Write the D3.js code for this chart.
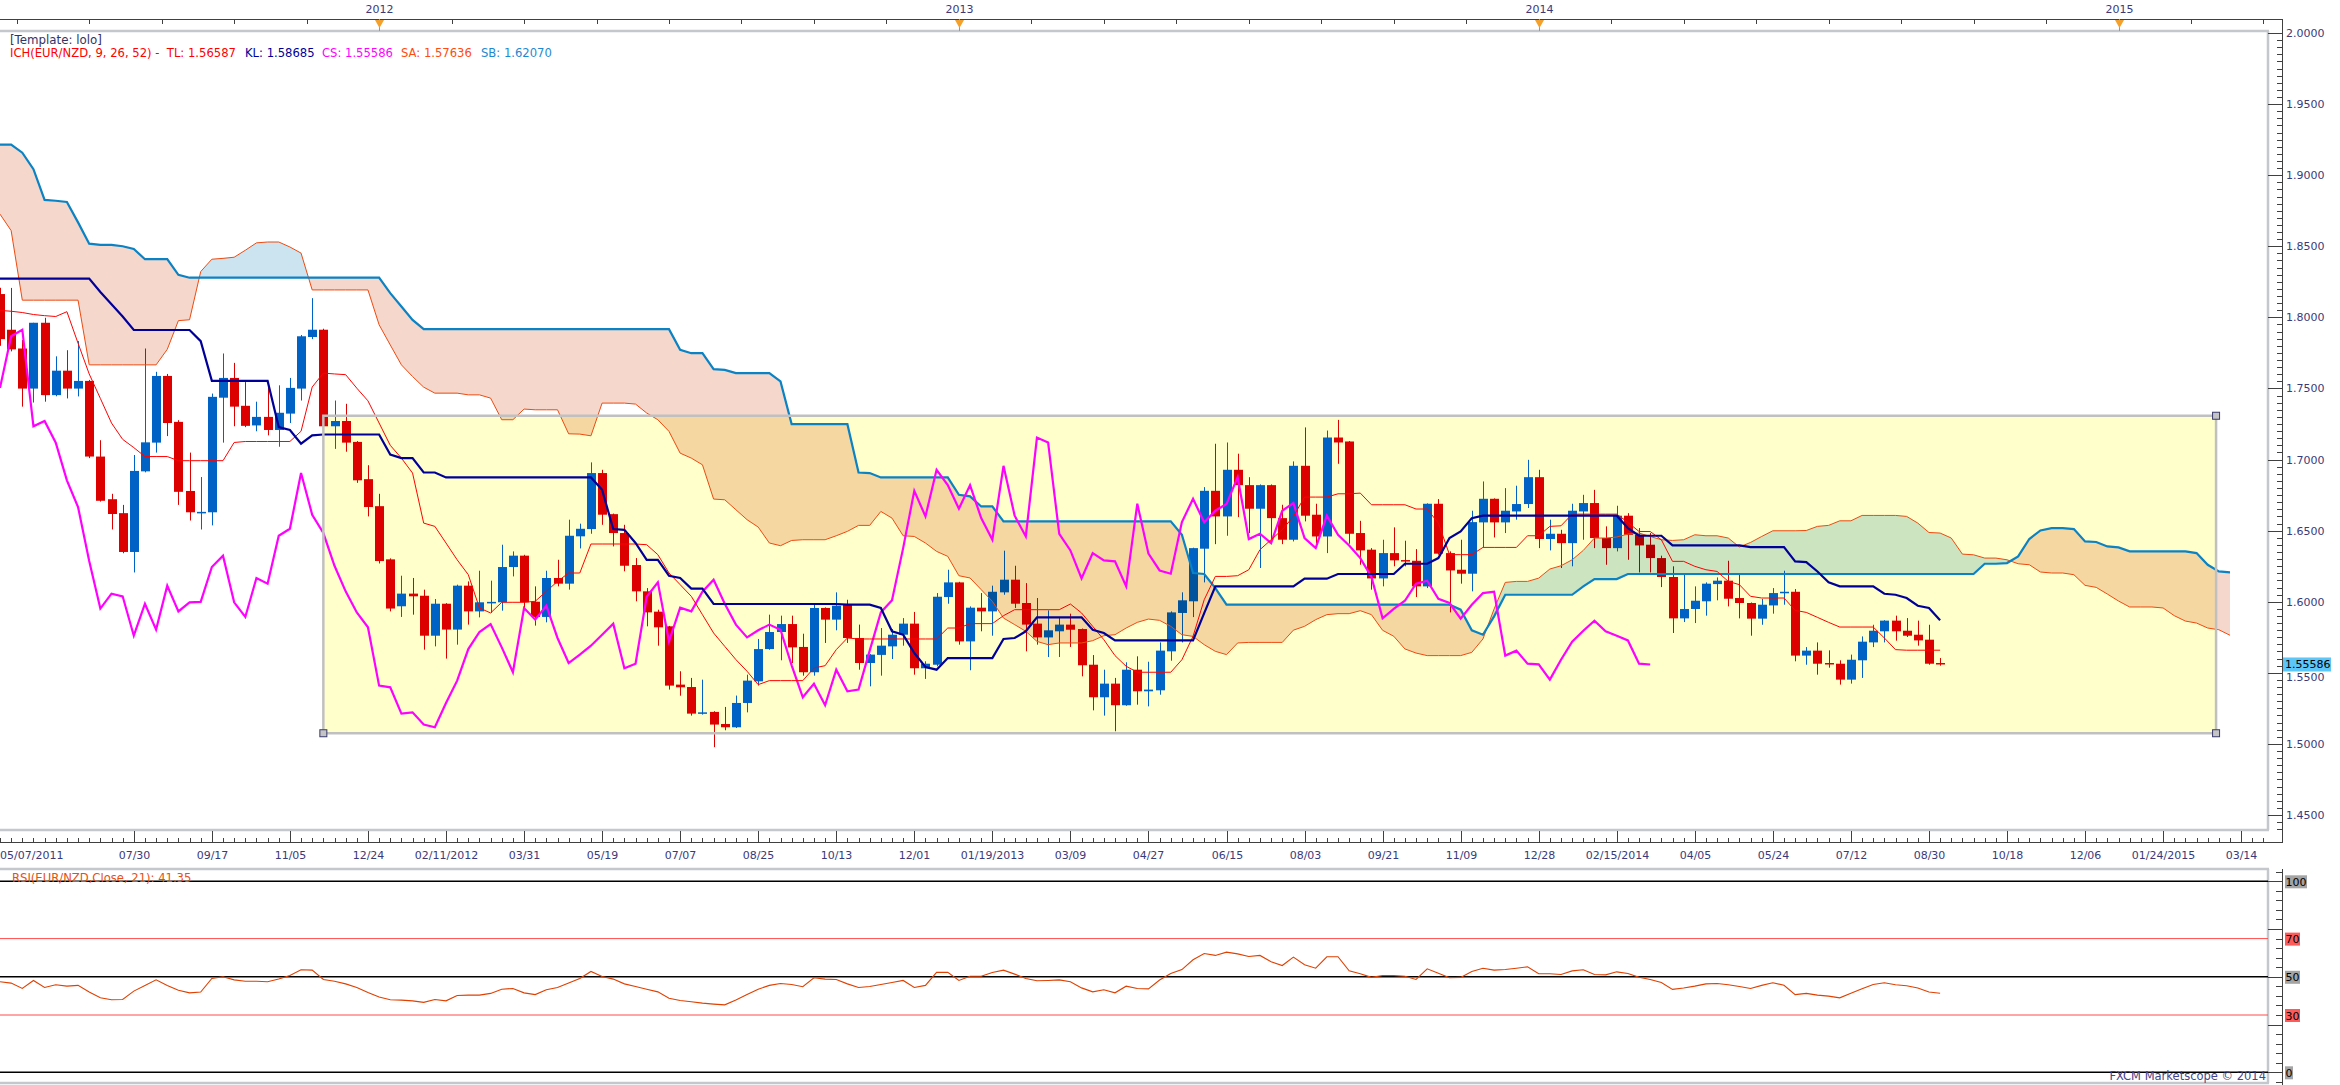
<!DOCTYPE html>
<html><head><meta charset="utf-8">
<script src="https://cdn.jsdelivr.net/npm/d3@7"></script>
<style>body{margin:0;background:#fff}svg{display:block}text{font-family:"DejaVu Sans",sans-serif}</style>
</head><body><svg id="c" width="2340" height="1085"></svg>
<script>
// ===== DATA (weekly EUR/NZD, week 0 = 05/07/2011) =====
const opens = [
1.8164,1.7913,1.7781,1.7499,1.7962,1.7453,1.7625,1.7499,1.7553,1.7021,
1.6721,1.6623,1.6350,1.6917,1.7119,1.7588,1.7265,1.6779,1.6629,1.6629,
1.7435,1.7574,1.7378,1.7240,1.7300,1.7208,1.7323,1.7499,1.7862,1.7913,
1.7234,1.7271,1.7124,1.6862,1.6672,1.6298,1.5968,1.6057,1.6042,1.5761,
1.5986,1.5804,1.6113,1.5932,1.5996,1.5996,1.6244,1.6324,1.6000,1.5893,
1.6167,1.6127,1.6460,1.6511,1.6905,1.6616,1.6483,1.6258,1.6073,1.5930,
1.5827,1.5417,1.5400,1.5213,1.5225,1.5140,1.5117,1.5288,1.5440,1.5667,
1.5787,1.5843,1.5682,1.5504,1.5956,1.5874,1.5979,1.5745,1.5569,1.5626,
1.5686,1.5768,1.5846,1.5532,1.5557,1.6033,1.6136,1.5721,1.5958,1.5932,
1.6066,1.6155,1.5991,1.5846,1.5749,1.5792,1.5839,1.5808,1.5557,1.5328,
1.5424,1.5272,1.5522,1.5370,1.5377,1.5651,1.5921,1.6003,1.6373,1.6780,
1.6600,1.6928,1.6820,1.6654,1.6820,1.6588,1.6436,1.6956,1.6612,1.6459,
1.7155,1.7127,1.6483,1.6366,1.6164,1.6342,1.6293,1.6288,1.6108,1.6689,
1.6342,1.6225,1.6197,1.6558,1.6724,1.6558,1.6635,1.6687,1.6876,1.6441,
1.6478,1.6412,1.6635,1.6694,1.6448,1.6377,1.6605,1.6471,1.6401,1.6307,
1.6174,1.5883,1.5949,1.6003,1.6124,1.6148,1.6026,1.5991,1.5881,1.5974,
1.6061,1.6070,1.5621,1.5656,1.5569,1.5564,1.5452,1.5588,1.5714,1.5792,
1.5867,1.5796,1.5768,1.5733,1.5569];
const highs = [
1.8208,1.8207,1.7841,1.7962,1.7997,1.7726,1.7769,1.7833,1.7560,1.7136,
1.6759,1.6681,1.7032,1.7781,1.7617,1.7602,1.7277,1.7049,1.6877,1.7464,
1.7746,1.7680,1.7545,1.7407,1.7545,1.7522,1.7574,1.7876,1.8135,1.7920,
1.7415,1.7392,1.7130,1.6960,1.6759,1.6305,1.6183,1.6167,1.6085,1.6019,
1.5990,1.6120,1.6143,1.6218,1.6148,1.6401,1.6354,1.6330,1.6108,1.6218,
1.6295,1.6577,1.6549,1.6980,1.6928,1.6620,1.6541,1.6307,1.6096,1.5944,
1.5830,1.5511,1.5464,1.5452,1.5230,1.5260,1.5340,1.5487,1.5738,1.5909,
1.5902,1.5902,1.5775,1.5979,1.5960,1.6066,1.6014,1.5839,1.5632,1.5815,
1.5808,1.5885,1.5928,1.5581,1.6061,1.6225,1.6140,1.5967,1.6061,1.6113,
1.6359,1.6253,1.6131,1.6026,1.5939,1.5885,1.5916,1.5812,1.5625,1.5522,
1.5464,1.5574,1.5616,1.5578,1.5714,1.5932,1.6066,1.6380,1.6806,1.7111,
1.7120,1.7041,1.6876,1.6825,1.6825,1.6682,1.6987,1.7226,1.6689,1.7204,
1.7279,1.7130,1.6569,1.6377,1.6436,1.6523,1.6429,1.6370,1.6692,1.6722,
1.6354,1.6436,1.6640,1.6846,1.6727,1.6799,1.6816,1.6998,1.6928,1.6577,
1.6506,1.6689,1.6752,1.6787,1.6530,1.6675,1.6623,1.6518,1.6483,1.6324,
1.6249,1.6190,1.6108,1.6136,1.6171,1.6288,1.6190,1.5995,1.6019,1.6096,
1.6218,1.6089,1.5681,1.5714,1.5658,1.5588,1.5628,1.5756,1.5838,1.5870,
1.5902,1.5885,1.5867,1.5838,1.5604];
const lows = [
1.7800,1.7761,1.7372,1.7401,1.7407,1.7445,1.7430,1.7444,1.7010,1.6704,
1.6508,1.6341,1.6206,1.6910,1.7049,1.7165,1.6681,1.6571,1.6508,1.6537,
1.7119,1.7234,1.7228,1.7199,1.7170,1.7090,1.7257,1.7415,1.7847,1.7185,
1.7075,1.7055,1.6836,1.6600,1.6269,1.5932,1.5893,1.5909,1.5663,1.5686,
1.5600,1.5698,1.5839,1.5890,1.5921,1.5937,1.6178,1.5956,1.5832,1.5855,
1.6108,1.6085,1.6375,1.6478,1.6541,1.6389,1.6214,1.6003,1.5827,1.5691,
1.5382,1.5339,1.5199,1.5206,1.4977,1.5096,1.5112,1.5222,1.5410,1.5662,
1.5588,1.5569,1.5480,1.5480,1.5710,1.5799,1.5710,1.5522,1.5405,1.5480,
1.5597,1.5691,1.5487,1.5457,1.5546,1.5986,1.5698,1.5518,1.5792,1.5761,
1.6049,1.5956,1.5651,1.5698,1.5611,1.5611,1.5682,1.5475,1.5236,1.5199,
1.5089,1.5268,1.5276,1.5264,1.5346,1.5585,1.5714,1.5892,1.6136,1.6405,
1.6464,1.6595,1.6483,1.6237,1.6441,1.6405,1.6424,1.6565,1.6408,1.6342,
1.6970,1.6408,1.6260,1.6085,1.6108,1.6249,1.6249,1.6033,1.6096,1.6331,
1.5925,1.6127,1.6073,1.6384,1.6452,1.6483,1.6577,1.6659,1.6377,1.6361,
1.6237,1.6249,1.6436,1.6377,1.6260,1.6354,1.6295,1.6206,1.6206,1.6103,
1.5780,1.5857,1.5850,1.5902,1.6010,1.5967,1.5883,1.5761,1.5838,1.5916,
1.5979,1.5581,1.5557,1.5487,1.5536,1.5417,1.5424,1.5464,1.5681,1.5714,
1.5726,1.5752,1.5691,1.5557,1.5550];
const closes = [
1.7847,1.7775,1.7499,1.7962,1.7453,1.7625,1.7499,1.7553,1.7021,1.6710,
1.6617,1.6350,1.6920,1.7121,1.7588,1.7257,1.6773,1.6629,1.6632,1.7441,
1.7574,1.7372,1.7237,1.7300,1.7208,1.7329,1.7504,1.7867,1.7913,1.7234,
1.7271,1.7119,1.6854,1.6666,1.6286,1.5952,1.6057,1.6038,1.5761,1.5986,
1.5804,1.6113,1.5932,1.5996,1.5999,1.6244,1.6324,1.5996,1.5893,1.6167,
1.6127,1.6464,1.6513,1.6905,1.6612,1.6483,1.6253,1.6073,1.5925,1.5820,
1.5410,1.5398,1.5213,1.5222,1.5136,1.5117,1.5288,1.5445,1.5667,1.5787,
1.5843,1.5679,1.5504,1.5956,1.5874,1.5972,1.5745,1.5569,1.5628,1.5691,
1.5768,1.5846,1.5532,1.5564,1.6035,1.6136,1.5721,1.5958,1.5932,1.6070,
1.6155,1.5986,1.5839,1.5749,1.5799,1.5839,1.5803,1.5553,1.5328,1.5424,
1.5272,1.5522,1.5370,1.5382,1.5656,1.5925,1.6010,1.6377,1.6780,1.6600,
1.6928,1.6820,1.6654,1.6820,1.6588,1.6436,1.6956,1.6605,1.6459,1.7155,
1.7120,1.6478,1.6361,1.6164,1.6342,1.6291,1.6284,1.6108,1.6689,1.6338,
1.6220,1.6197,1.6560,1.6724,1.6558,1.6640,1.6687,1.6876,1.6441,1.6478,
1.6412,1.6640,1.6694,1.6448,1.6377,1.6605,1.6471,1.6396,1.6307,1.6174,
1.5883,1.5949,1.6007,1.6127,1.6148,1.6021,1.5991,1.5881,1.5979,1.6061,
1.6070,1.5621,1.5656,1.5564,1.5560,1.5452,1.5592,1.5719,1.5796,1.5867,
1.5792,1.5761,1.5728,1.5564,1.55586];
// Tenkan (TL)
const tenkan = [
1.8049,1.8043,1.8034,1.8020,1.8012,1.8006,1.8040,1.7818,1.7602,1.7430,
1.7257,1.7142,1.7084,1.7021,1.7021,1.7021,1.6992,1.6992,1.6992,1.6992,
1.6992,1.7120,1.7127,1.7127,1.7127,1.7127,1.7127,1.7199,1.7510,1.7608,
1.7602,1.7597,1.7502,1.7413,1.7257,1.7100,1.7010,1.6905,1.6553,1.6530,
1.6413,1.6295,1.6190,1.5956,1.5921,1.5996,1.5996,1.5996,1.6003,1.6073,
1.6143,1.6202,1.6202,1.6406,1.6406,1.6406,1.6406,1.6406,1.6401,1.6331,
1.6202,1.6120,1.6038,1.5909,1.5780,1.5686,1.5593,1.5511,1.5417,1.5445,
1.5445,1.5445,1.5445,1.5534,1.5550,1.5663,1.5745,1.5738,1.5738,1.5738,
1.5738,1.5738,1.5738,1.5738,1.5738,1.5815,1.5815,1.5846,1.5846,1.5846,
1.5902,1.5944,1.5944,1.5944,1.5944,1.5944,1.5984,1.5921,1.5827,1.5733,
1.5621,1.5546,1.5504,1.5504,1.5504,1.5504,1.5592,1.5757,1.6014,1.6178,
1.6178,1.6183,1.6225,1.6366,1.6436,1.6506,1.6600,1.6736,1.6736,1.6736,
1.6759,1.6759,1.6764,1.6682,1.6682,1.6682,1.6682,1.6652,1.6652,1.6553,
1.6331,1.6331,1.6331,1.6382,1.6382,1.6382,1.6382,1.6464,1.6464,1.6530,
1.6534,1.6616,1.6616,1.6616,1.6616,1.6616,1.6558,1.6494,1.6494,1.6436,
1.6284,1.6284,1.6249,1.6225,1.6213,1.6143,1.6120,1.6038,1.6026,1.6026,
1.6026,1.5939,1.5925,1.5890,1.5855,1.5822,1.5822,1.5822,1.5822,1.5745,
1.5663,1.5659,1.5659,1.5659,1.5659];
// Kijun (KL)
const kijun = [
1.8273,1.8273,1.8273,1.8273,1.8273,1.8273,1.8273,1.8273,1.8273,1.8178,
1.8092,1.8006,1.7911,1.7911,1.7911,1.7911,1.7911,1.7911,1.7833,1.7553,
1.7553,1.7553,1.7553,1.7553,1.7553,1.7228,1.7208,1.7112,1.7170,1.7176,
1.7176,1.7176,1.7176,1.7176,1.7176,1.7035,1.7010,1.7010,1.6909,1.6909,
1.6874,1.6874,1.6874,1.6874,1.6874,1.6874,1.6874,1.6874,1.6874,1.6874,
1.6874,1.6874,1.6874,1.6874,1.6787,1.6511,1.6506,1.6413,1.6295,1.6295,
1.6183,1.6167,1.6092,1.6092,1.5984,1.5984,1.5984,1.5984,1.5984,1.5984,
1.5984,1.5984,1.5984,1.5984,1.5984,1.5984,1.5979,1.5979,1.5979,1.5956,
1.5792,1.5768,1.5639,1.5541,1.5522,1.5604,1.5604,1.5604,1.5604,1.5604,
1.5738,1.5745,1.5792,1.5890,1.5890,1.5890,1.5890,1.5890,1.5803,1.5780,
1.5728,1.5728,1.5728,1.5728,1.5728,1.5728,1.5728,1.5728,1.5920,1.6108,
1.6108,1.6108,1.6108,1.6108,1.6108,1.6108,1.6108,1.6162,1.6162,1.6162,
1.6195,1.6195,1.6195,1.6195,1.6195,1.6195,1.6267,1.6267,1.6267,1.6307,
1.6448,1.6494,1.6588,1.6605,1.6605,1.6605,1.6605,1.6605,1.6605,1.6605,
1.6605,1.6605,1.6605,1.6605,1.6605,1.6605,1.6518,1.6464,1.6464,1.6464,
1.6396,1.6396,1.6396,1.6396,1.6396,1.6396,1.6396,1.6384,1.6384,1.6384,
1.6384,1.6284,1.6279,1.6213,1.6136,1.6108,1.6108,1.6108,1.6108,1.6056,
1.6049,1.6026,1.5972,1.5956,1.5869];
// Senkou A (SA), plotted weeks 0..200
const senkouA = [
1.8726,1.8610,1.8121,1.8121,1.8121,1.8121,1.8121,1.8121,1.7666,1.7666,
1.7666,1.7666,1.7666,1.7666,1.7666,1.7775,1.7977,1.7983,1.8322,1.8409,
1.8415,1.8423,1.8472,1.8524,1.8530,1.8530,1.8495,1.8452,1.8193,1.8193,
1.8193,1.8193,1.8193,1.8193,1.7948,1.7806,1.7666,1.7584,1.7509,1.7467,
1.7467,1.7467,1.7455,1.7455,1.7432,1.7280,1.7280,1.7355,1.7350,1.7350,
1.7350,1.7181,1.7179,1.7167,1.7397,1.7397,1.7397,1.7390,1.7327,1.7280,
1.7198,1.7045,1.7010,1.6963,1.6722,1.6717,1.6647,1.6577,1.6525,1.6413,
1.6394,1.6431,1.6436,1.6436,1.6436,1.6464,1.6495,1.6537,1.6537,1.6635,
1.6588,1.6464,1.6459,1.6413,1.6354,1.6319,1.6183,1.6167,1.6085,1.6003,
1.5885,1.5839,1.5792,1.5721,1.5698,1.5710,1.5710,1.5710,1.5726,1.5761,
1.5768,1.5815,1.5855,1.5878,1.5869,1.5827,1.5768,1.5756,1.5698,1.5651,
1.5628,1.5710,1.5714,1.5714,1.5714,1.5714,1.5800,1.5827,1.5874,1.5909,
1.5916,1.5916,1.5937,1.5909,1.5799,1.5757,1.5668,1.5639,1.5621,1.5621,
1.5621,1.5621,1.5644,1.5738,1.5949,1.6136,1.6143,1.6143,1.6166,1.6230,
1.6253,1.6295,1.6361,1.6448,1.6448,1.6455,1.6476,1.6483,1.6459,1.6436,
1.6431,1.6436,1.6471,1.6464,1.6464,1.6448,1.6385,1.6417,1.6459,1.6499,
1.6499,1.6499,1.6501,1.6530,1.6537,1.6569,1.6569,1.6607,1.6607,1.6607,
1.6607,1.6600,1.6553,1.6487,1.6483,1.6448,1.6335,1.6330,1.6307,1.6307,
1.6295,1.6267,1.6260,1.6209,1.6202,1.6202,1.6190,1.6115,1.6101,1.6054,
1.6005,1.5963,1.5963,1.5963,1.5956,1.5902,1.5864,1.5850,1.5815,1.5803,
1.5764];
// Senkou B (SB), plotted weeks 0..200
const senkouB = [
1.9215,1.9215,1.9158,1.9042,1.8826,1.8820,1.8812,1.8668,1.8518,1.8510,
1.8510,1.8500,1.8481,1.8409,1.8409,1.8409,1.8299,1.8279,1.8279,1.8279,
1.8279,1.8279,1.8279,1.8279,1.8279,1.8279,1.8279,1.8279,1.8279,1.8279,
1.8279,1.8279,1.8279,1.8279,1.8279,1.8170,1.8077,1.7982,1.7917,1.7917,
1.7917,1.7917,1.7917,1.7917,1.7917,1.7917,1.7917,1.7917,1.7917,1.7917,
1.7917,1.7917,1.7917,1.7917,1.7917,1.7917,1.7917,1.7917,1.7917,1.7917,
1.7917,1.7772,1.7748,1.7748,1.7636,1.7631,1.7608,1.7608,1.7608,1.7608,
1.7549,1.7249,1.7249,1.7249,1.7249,1.7249,1.7249,1.6909,1.6905,1.6874,
1.6874,1.6874,1.6874,1.6874,1.6874,1.6874,1.6752,1.6741,1.6670,1.6670,
1.6565,1.6565,1.6565,1.6565,1.6565,1.6565,1.6565,1.6565,1.6565,1.6565,
1.6565,1.6565,1.6565,1.6565,1.6565,1.6565,1.6471,1.6202,1.6195,1.6096,
1.5979,1.5979,1.5979,1.5979,1.5979,1.5979,1.5979,1.5979,1.5979,1.5979,
1.5979,1.5979,1.5979,1.5979,1.5979,1.5979,1.5979,1.5979,1.5979,1.5979,
1.5979,1.5944,1.5799,1.5768,1.5897,1.6049,1.6049,1.6049,1.6049,1.6049,
1.6049,1.6049,1.6108,1.6159,1.6159,1.6159,1.6195,1.6195,1.6195,1.6195,
1.6195,1.6195,1.6195,1.6195,1.6195,1.6195,1.6195,1.6195,1.6195,1.6195,
1.6195,1.6195,1.6195,1.6195,1.6195,1.6195,1.6195,1.6195,1.6195,1.6195,
1.6195,1.6195,1.6195,1.6195,1.6195,1.6195,1.6195,1.6195,1.6267,1.6267,
1.6272,1.6319,1.6441,1.6501,1.6518,1.6518,1.6511,1.6424,1.6420,1.6389,
1.6382,1.6354,1.6354,1.6354,1.6354,1.6354,1.6354,1.6342,1.6260,1.6213,
1.6207];
const chikouShift = 26; // CS = close drawn 26 weeks back
// RSI(21)
const rsi = [
47.4,46.7,43.9,48.1,44.4,45.8,45.1,45.5,42.0,39.0,
38.0,38.1,42.5,45.5,48.4,45.5,43.0,41.6,42.0,49.1,
50.0,48.4,47.7,47.7,47.4,48.8,50.7,53.7,53.5,48.6,
47.7,46.3,44.4,41.8,39.4,38.0,37.8,37.4,36.6,38.1,
37.4,40.2,40.4,40.4,41.3,43.5,43.9,41.6,40.7,43.2,
44.4,46.7,49.1,52.8,50.2,48.8,46.3,44.9,43.5,42.1,
38.8,37.6,36.9,36.2,35.7,35.3,37.8,40.7,43.5,45.5,
46.5,46.0,44.8,49.5,48.8,48.6,46.3,44.4,44.9,46.0,
47.0,48.1,44.4,45.5,52.3,52.4,48.1,50.3,50.3,52.3,
53.5,51.4,49.1,47.9,48.1,48.4,47.4,44.2,42.1,43.2,
41.6,45.1,43.9,43.7,48.3,51.7,53.8,58.9,62.2,61.2,
62.9,62.0,60.6,61.2,57.9,55.9,60.3,56.3,54.5,60.5,
60.5,53.1,51.6,49.7,50.7,50.7,50.3,48.6,54.2,51.9,
49.5,49.7,52.8,54.5,53.5,53.8,54.5,55.2,51.6,51.6,
51.2,53.1,53.7,51.2,51.0,52.6,51.7,49.8,48.6,47.0,
43.4,44.1,45.1,46.3,46.5,45.8,44.9,43.9,45.5,46.9,
45.6,40.7,41.3,40.4,39.9,39.0,41.4,43.7,46.0,46.9,
45.8,45.3,44.1,42.0,41.35];
const rsiLevels = [100, 70, 50, 30, 0];
const dateLabels = ["05/07/2011","07/30","09/17","11/05","12/24","02/11/2012","03/31","05/19","07/07","08/25","10/13","12/01","01/19/2013","03/09","04/27","06/15","08/03","09/21","11/09","12/28","02/15/2014","04/05","05/24","07/12","08/30","10/18","12/06","01/24/2015","03/14"];
const dateLabelWeeks = [0,12,19,26,33,40,47,54,61,68,75,82,89,96,103,110,117,124,131,138,145,152,159,166,173,180,187,194,201];
const yearLabels = ["2012","2013","2014","2015"];
const yearWeeks = [34,86,138,190];
const priceTicks = [1.45,1.50,1.55,1.60,1.65,1.70,1.75,1.80,1.85,1.90,1.95,2.00];
const boxWeeks = [29, 198.75];      // drawn rectangle (weeks)
const boxPrices = [1.7308, 1.5075]; // drawn rectangle (prices)
const lastPrice = 1.55586;
const legendTemplate = "[Template: lolo]";
const legendParts = [
 {t:"ICH(EUR/NZD, 9, 26, 52) -  TL: 1.56587", c:"#ff0000", x:10},
 {t:"KL: 1.58685", c:"#000099", x:245},
 {t:"CS: 1.55586", c:"#ff00ff", x:322},
 {t:"SA: 1.57636", c:"#ff4a10", x:401},
 {t:"SB: 1.62070", c:"#1e88d0", x:481}];
const rsiLegend = "RSI(EUR/NZD,Close, 21): 41.35";

// ===== LAYOUT =====
const W=2340,H=1085;
const plotR=2268, plotT=31, plotB=830, axX=2282, topAxY=19, botAxY=842, rsiT=869, rsiB=1083;
const svg=d3.select('#c');
const defs=svg.append('defs');
const x=d3.scaleLinear().domain([0,200]).range([0,2230]);
const y=d3.scaleLinear().domain([1.45,2.0]).range([815,33]);
const yr=d3.scaleLinear().domain([0,100]).range([1072.3,881.3]);
const labelCol="#3a3a7a";

svg.append('rect').attr('width',W).attr('height',H).attr('fill','#fff');

defs.append('clipPath').attr('id','mainClip').append('rect')
  .attr('x',0).attr('y',plotT).attr('width',plotR).attr('height',plotB-plotT);
defs.append('clipPath').attr('id','rsiClip').append('rect')
  .attr('x',0).attr('y',rsiT).attr('width',plotR).attr('height',rsiB-rsiT);

const main=svg.append('g').attr('clip-path','url(#mainClip)');

// yellow rectangle
main.append('rect').attr('x',x(boxWeeks[0])).attr('y',y(boxPrices[0]))
  .attr('width',x(boxWeeks[1])-x(boxWeeks[0])).attr('height',y(boxPrices[1])-y(boxPrices[0]))
  .attr('fill','#ffffcc');

// candles
const cg=main.append('g');
closes.forEach((c,i)=>{
  const o=opens[i], up=c>=o, col=up?'#0062c4':'#dd0000';
  const px=Math.round(x(i));
  cg.append('line').attr('x1',px+0.5).attr('x2',px+0.5)
    .attr('y1',y(highs[i])).attr('y2',y(lows[i])).attr('stroke',col).attr('stroke-width',1);
  const top=y(Math.max(o,c)), bot=y(Math.min(o,c));
  cg.append('rect').attr('x',px-4).attr('y',top).attr('width',9)
    .attr('height',Math.max(bot-top,1.5)).attr('fill',col);
});

// cloud (multiply blend)
const ci=d3.range(senkouA.length);
defs.append('clipPath').attr('id','aboveSA').append('path')
  .attr('d',d3.area().x(i=>x(i)).y0(0).y1(i=>y(senkouA[i]))(ci));
defs.append('clipPath').attr('id','belowSA').append('path')
  .attr('d',d3.area().x(i=>x(i)).y0(i=>y(senkouA[i])).y1(H)(ci));
const cloud=main.append('g').style('mix-blend-mode','multiply');
cloud.append('path').attr('clip-path','url(#aboveSA)')
  .attr('d',d3.area().x(i=>x(i)).y0(i=>y(senkouB[i])).y1(H)(ci)).attr('fill','#f5d7cb');
cloud.append('path').attr('clip-path','url(#belowSA)')
  .attr('d',d3.area().x(i=>x(i)).y0(0).y1(i=>y(senkouB[i]))(ci)).attr('fill','#cce4f0');

// lines
const line=d3.line().x((d,i)=>x(i)).y(d=>y(d));
main.append('path').attr('d',line(senkouA)).attr('fill','none').attr('stroke','#ee4a10').attr('stroke-width',1);
main.append('path').attr('d',line(senkouB)).attr('fill','none').attr('stroke','#0a82c4').attr('stroke-width',2.2);
main.append('path').attr('d',line(closes.slice(chikouShift))).attr('fill','none').attr('stroke','#ff00ff').attr('stroke-width',2.2);
main.append('path').attr('d',line(tenkan)).attr('fill','none').attr('stroke','#ff0000').attr('stroke-width',1);
main.append('path').attr('d',line(kijun)).attr('fill','none').attr('stroke','#000099').attr('stroke-width',2.2);

// rectangle border + handles
main.append('rect').attr('x',x(boxWeeks[0])).attr('y',y(boxPrices[0]))
  .attr('width',x(boxWeeks[1])-x(boxWeeks[0])).attr('height',y(boxPrices[1])-y(boxPrices[0]))
  .attr('fill','none').attr('stroke','#c0c0c0').attr('stroke-width',2.5);
[[boxWeeks[0],boxPrices[1]],[boxWeeks[1],boxPrices[0]],[boxWeeks[1],boxPrices[1]]].forEach(([w,p])=>{
  svg.append('rect').attr('x',x(w)-3.5).attr('y',y(p)-3.5).attr('width',7).attr('height',7)
    .attr('fill','#c4c4c4').attr('stroke','#3a3a6a').attr('stroke-width',1);
});

// legend
svg.append('text').attr('x',10).attr('y',43.5).attr('font-size',11.8).attr('fill','#333366').text(legendTemplate);
legendParts.forEach(p=>svg.append('text').attr('x',p.x).attr('y',56.5).attr('font-size',11.6).attr('fill',p.c).attr('xml:space','preserve').text(p.t));

// panel borders
const border='#c4c8cc';
svg.append('line').attr('x1',0).attr('x2',plotR+1).attr('y1',plotT).attr('y2',plotT).attr('stroke',border).attr('stroke-width',2.5);
svg.append('line').attr('x1',0).attr('x2',plotR+1).attr('y1',plotB).attr('y2',plotB).attr('stroke',border).attr('stroke-width',2.5);
svg.append('line').attr('x1',plotR).attr('x2',plotR).attr('y1',plotT).attr('y2',plotB).attr('stroke',border).attr('stroke-width',2.5);
svg.append('line').attr('x1',0).attr('x2',plotR+1).attr('y1',rsiT).attr('y2',rsiT).attr('stroke',border).attr('stroke-width',2.5);
svg.append('line').attr('x1',0).attr('x2',plotR+1).attr('y1',rsiB).attr('y2',rsiB).attr('stroke',border).attr('stroke-width',2.5);
svg.append('line').attr('x1',plotR).attr('x2',plotR).attr('y1',rsiT).attr('y2',rsiB).attr('stroke',border).attr('stroke-width',2.5);

// top axis
const ax='#404040';
svg.append('line').attr('x1',0).attr('x2',axX+0.5).attr('y1',topAxY+0.5).attr('y2',topAxY+0.5).attr('stroke',ax);
for(let k=-5;k<=26;k++){
  const w=yearWeeks[0]+6.5*k, px=Math.round(x(w))+0.5;
  if(px<0||px>axX) continue;
  svg.append('line').attr('x1',px).attr('x2',px).attr('y1',topAxY).attr('y2',topAxY+5).attr('stroke',ax);
}
yearWeeks.forEach((w,i)=>{
  const px=Math.round(x(w))+0.5;
  svg.append('line').attr('x1',px).attr('x2',px).attr('y1',topAxY).attr('y2',plotT).attr('stroke','#999');
  svg.append('path').attr('d',`M${px-4.5},${topAxY+1}L${px+4.5},${topAxY+1}L${px},${topAxY+9}Z`).attr('fill','#f5a02a');
  svg.append('text').attr('x',px).attr('y',12.7).attr('text-anchor','middle').attr('font-size',11).attr('fill',labelCol).text(yearLabels[i]);
});

// right price axis
svg.append('line').attr('x1',axX+0.5).attr('x2',axX+0.5).attr('y1',topAxY).attr('y2',botAxY+1).attr('stroke',ax);
for(let k=288;k<=400;k++){
  const v=k*0.005, py=Math.round(y(v))+0.5;
  if(py<plotT||py>botAxY-2) continue;
  const major=(k%10===0);
  svg.append('line').attr('x1',major?plotR:axX-5).attr('x2',axX).attr('y1',py).attr('y2',py).attr('stroke',ax);
}
const boxTop=y(lastPrice)-7, boxH=14;
priceTicks.forEach(v=>{
  let by=y(v)+4;
  // the last-price flag covers this label's upper part in the original; show the label just below it
  if(by-10<boxTop+boxH && by>boxTop) by=boxTop+boxH+9.5;
  svg.append('text').attr('x',axX+4).attr('y',by).attr('font-size',11).attr('fill',labelCol).text(v.toFixed(4));
});
svg.append('rect').attr('x',axX+1).attr('y',boxTop).attr('width',48).attr('height',boxH).attr('fill','#5cc6f8');
svg.append('text').attr('x',axX+3).attr('y',y(lastPrice)+4).attr('font-size',11).attr('fill','#000').text(lastPrice.toFixed(5));

// bottom date axis
svg.append('line').attr('x1',0).attr('x2',axX+0.5).attr('y1',botAxY+0.5).attr('y2',botAxY+0.5).attr('stroke',ax);
for(let w=0;w<=203;w++){
  const px=Math.round(x(w))+0.5;
  if(px>plotR) continue;
  svg.append('line').attr('x1',px).attr('x2',px).attr('y1',botAxY-4).attr('y2',botAxY).attr('stroke',ax);
}
dateLabelWeeks.forEach((w,i)=>{
  const px=Math.round(x(w))+0.5;
  if(i>0) svg.append('line').attr('x1',px).attr('x2',px).attr('y1',plotB+1).attr('y2',botAxY).attr('stroke',ax);
  svg.append('text').attr('x',i===0?0:px).attr('y',859).attr('text-anchor',i===0?'start':'middle')
    .attr('font-size',11).attr('fill',labelCol).text(dateLabels[i]);
});

// RSI panel
const rg=svg.append('g').attr('clip-path','url(#rsiClip)');
rsiLevels.forEach(l=>{
  const red=(l===70||l===30);
  rg.append('line').attr('x1',0).attr('x2',plotR).attr('y1',yr(l)).attr('y2',yr(l))
    .attr('stroke',red?'#ff4a4a':'#000').attr('stroke-width',red?1:1.6);
});
rg.append('path').attr('d',d3.line().x((d,i)=>x(i)).y(d=>yr(d))(rsi)).attr('fill','none').attr('stroke','#e04000').attr('stroke-width',1.1);
svg.append('text').attr('x',12).attr('y',882).attr('font-size',11.6).attr('fill','#e85010').text(rsiLegend);
svg.append('line').attr('x1',axX+0.5).attr('x2',axX+0.5).attr('y1',rsiT).attr('y2',rsiB+2).attr('stroke',ax);
for(let v=-5;v<=105;v+=5){
  const py=Math.round(yr(v))+0.5;
  if(py<rsiT||py>rsiB+1) continue;
  svg.append('line').attr('x1',v%25===0?plotR:axX-6).attr('x2',axX).attr('y1',py).attr('y2',py).attr('stroke',ax);
}
rsiLevels.forEach(l=>{
  const red=(l===70||l===30);
  const tw=String(l).length*7+1;
  svg.append('rect').attr('x',axX+3).attr('y',yr(l)-6).attr('width',tw).attr('height',13).attr('fill',red?'#ff5a5a':'#a4a4a4');
  svg.append('text').attr('x',axX+3.5).attr('y',yr(l)+4.5).attr('font-size',11).attr('fill','#000').text(l);
});
svg.append('text').attr('x',plotR-2).attr('y',1080).attr('text-anchor','end').attr('font-size',11.5).attr('fill','#44448a').text('FXCM Marketscope \u00a9 2014');
</script></body></html>
